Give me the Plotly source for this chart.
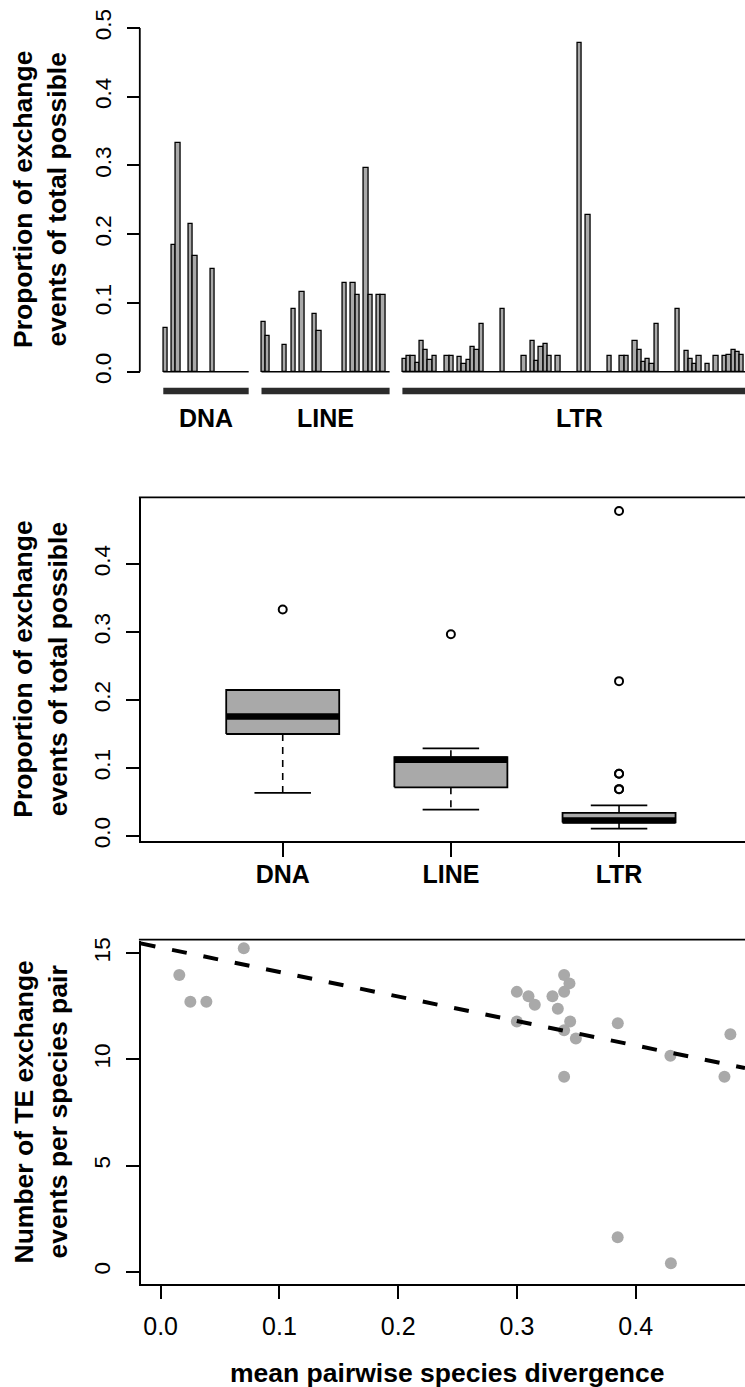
import numpy as np
import plotly.graph_objects as go

# ---------------- data ----------------
group_names = ["DNA", "LINE", "LTR"]

# proportion of exchange events of total possible, one value per TE family (bar order)
dna_props = [0.0635, 0, 0.1836, 0.333, 0, 0, 0.2147, 0.1676, 0, 0, 0, 0.150,
             0, 0, 0, 0, 0, 0, 0, 0]
line_props = [0.0717, 0.0513, 0, 0, 0, 0.039, 0, 0.0906, 0, 0.116, 0, 0,
              0.0843, 0.0586, 0, 0, 0, 0, 0, 0.129, 0, 0.129, 0.112, 0,
              0.2965, 0.112, 0, 0.112, 0.112, 0]
ltr_props = [0.019, 0.023, 0.023, 0.0126, 0.045, 0.032, 0.0165, 0.023, 0, 0,
             0.023, 0.023, 0, 0.021, 0.011, 0.0165, 0.036, 0.031, 0.069, 0,
             0, 0, 0, 0.0916, 0, 0, 0, 0, 0.023, 0,
             0.045, 0.015, 0.036, 0.0397, 0.023, 0, 0.023, 0, 0, 0,
             0, 0.4777, 0, 0.2277, 0, 0, 0, 0, 0.023, 0,
             0, 0.023, 0.023, 0, 0.045, 0.032, 0.0135, 0.019, 0.011, 0.069,
             0, 0, 0, 0, 0.0916, 0, 0.0295, 0.019, 0.011, 0.023,
             0, 0.011, 0, 0.023, 0, 0.023, 0.0247, 0.031, 0.029, 0.0247,
             0, 0, 0]
group_gap = 3

# mean pairwise species divergence vs number of TE exchange events per species pair
divergence = [0.0157, 0.025, 0.0385, 0.070, 0.2999, 0.3097, 0.315, 0.2999,
              0.3299, 0.3397, 0.3442, 0.3397, 0.3344, 0.3448, 0.3397, 0.3496,
              0.3397, 0.3849, 0.4292, 0.4797, 0.4747, 0.3848, 0.4296]
exchanges = [13.98, 12.72, 12.72, 15.24, 13.18, 12.97, 12.57, 11.78,
             12.97, 13.98, 13.58, 13.18, 12.38, 11.78, 11.37, 10.98,
             9.18, 11.70, 10.17, 11.18, 9.18, 1.62, 0.40]
fit_intercept = 15.27
fit_slope = -11.54

prop_ticks = [0.0, 0.1, 0.2, 0.3, 0.4, 0.5]
count_ticks = [0, 5, 10, 15]
div_ticks = [0.0, 0.1, 0.2, 0.3, 0.4]

# ---------------- layout helpers ----------------
W, H = 745, 1387
FONT = "Liberation Sans, Arial, Helvetica, sans-serif"
GRAY = "#A9A9A9"
LW = 1.8


def fx(p):
    return p / W


def fy(p):
    return 1 - p / H


fig = go.Figure()
shapes = []
annotations = []

# ---------------- panel 1: bars ----------------
groups = [dna_props, line_props, ltr_props]
offsets = []
off = 0
for g in groups:
    offsets.append(off)
    off += len(g) + group_gap

for name, vals, o in zip(group_names, groups, offsets):
    vals = np.asarray(vals, float)
    pos = o + np.arange(len(vals)) + 0.5
    keep = vals > 0
    fig.add_trace(go.Bar(x=pos[keep], y=vals[keep], width=1.0,
                         marker=dict(color=GRAY, line=dict(color="black", width=1.3)),
                         xaxis="x", yaxis="y", hoverinfo="skip"))
    # zero baseline of the group
    shapes.append(dict(type="line", xref="x", yref="y", x0=o, x1=o + len(vals), y0=0, y1=0,
                       line=dict(color="black", width=1.5), layer="above"))
    # group bar underneath
    shapes.append(dict(type="line", xref="x", yref="y", x0=o, x1=o + len(vals), y0=-0.028, y1=-0.028,
                       line=dict(color="#2b2b2b", width=6.5)))
    annotations.append(dict(x=o + len(vals) / 2, xref="x", y=fy(418), yref="paper",
                            text=name, showarrow=False, xanchor="center", yanchor="middle",
                            font=dict(family=FONT, size=25, color="black", weight="bold")))

# y axis line only from 0 to 0.5
shapes.append(dict(type="line", xref="paper", yref="y", x0=fx(140.7) - 0.0012, x1=fx(140.7) - 0.0012,
                   y0=prop_ticks[0], y1=prop_ticks[-1], line=dict(color="black", width=LW)))

# ---------------- panel 2: boxplots ----------------
def r_boxplot_stats(vals):
    v = np.sort(np.asarray(vals, float))
    n = len(v)
    n4 = np.floor((n + 3) / 2) / 2
    d = np.array([1, n4, (n + 1) / 2, n + 1 - n4, n]) - 1
    five = 0.5 * (v[np.floor(d).astype(int)] + v[np.ceil(d).astype(int)])
    iqr = five[3] - five[1]
    lo_lim, hi_lim = five[1] - 1.5 * iqr, five[3] + 1.5 * iqr
    inside = v[(v >= lo_lim) & (v <= hi_lim)]
    out = v[(v < lo_lim) | (v > hi_lim)]
    return dict(lo=inside.min(), q1=five[1], med=five[2], q3=five[3], hi=inside.max(), out=out)


box_half = 0.336
all_pos = []
for i, vals in enumerate(groups):
    v = [x for x in vals if x > 0]
    all_pos += v
    s = r_boxplot_stats(v)
    c = i + 1
    # whiskers (dashed)
    fig.add_trace(go.Scatter(x=[c, c, None, c, c], y=[s["q3"], s["hi"], None, s["q1"], s["lo"]],
                             mode="lines", line=dict(color="black", width=1.6, dash="7px,6px"),
                             xaxis="x2", yaxis="y2", hoverinfo="skip"))
    # staples
    fig.add_trace(go.Scatter(x=[c - box_half / 2, c + box_half / 2, None, c - box_half / 2, c + box_half / 2],
                             y=[s["hi"], s["hi"], None, s["lo"], s["lo"]],
                             mode="lines", line=dict(color="black", width=LW),
                             xaxis="x2", yaxis="y2", hoverinfo="skip"))
    # box
    fig.add_trace(go.Scatter(x=[c - box_half, c + box_half, c + box_half, c - box_half, c - box_half],
                             y=[s["q1"], s["q1"], s["q3"], s["q3"], s["q1"]],
                             mode="lines", fill="toself", fillcolor=GRAY,
                             line=dict(color="black", width=LW),
                             xaxis="x2", yaxis="y2", hoverinfo="skip"))
    # median
    fig.add_trace(go.Scatter(x=[c - box_half, c + box_half], y=[s["med"], s["med"]],
                             mode="lines", line=dict(color="black", width=6.5),
                             xaxis="x2", yaxis="y2", hoverinfo="skip"))
    # outliers
    if len(s["out"]):
        fig.add_trace(go.Scatter(x=[c] * len(s["out"]), y=s["out"], mode="markers",
                                 marker=dict(symbol="circle-open", size=8, color="black",
                                             line=dict(color="black", width=2)),
                                 xaxis="x2", yaxis="y2", hoverinfo="skip"))

bmin, bmax = min(all_pos), max(all_pos)
bpad = 0.04 * (bmax - bmin)
box_range = [bmin - bpad, bmax + bpad]

# ---------------- panel 3: scatter ----------------
fig.add_trace(go.Scatter(x=divergence, y=exchanges, mode="markers",
                         marker=dict(color=GRAY, size=12, line=dict(width=0)),
                         xaxis="x3", yaxis="y3", hoverinfo="skip"))
x3_range = [-0.0168, 0.492]
fit_x = np.array(x3_range)
fig.add_trace(go.Scatter(x=fit_x, y=fit_intercept + fit_slope * fit_x, mode="lines",
                         line=dict(color="black", width=4, dash="15px,17px"),
                         xaxis="x3", yaxis="y3", hoverinfo="skip"))

# top frame lines for panels 2 and 3
for top in (498.3, 940.5):
    shapes.append(dict(type="line", xref="paper", yref="paper", x0=fx(140.7) - 0.0024, x1=1,
                       y0=fy(top) + 0.0006, y1=fy(top) + 0.0006, line=dict(color="black", width=LW)))

# axis titles
ytitle_font = dict(family=FONT, size=26.5, color="black", weight="bold")
for txt, yc in [("Proportion of exchange<br>events of total possible", 200),
                ("Proportion of exchange<br>events of total possible", 669.8),
                ("Number of TE exchange<br>events per species pair", 1112.5)]:
    annotations.append(dict(text=txt, x=fx(40), y=fy(yc), xref="paper", yref="paper",
                            textangle=-90, showarrow=False, xanchor="center", yanchor="middle",
                            align="center", font=ytitle_font))
annotations.append(dict(text="mean pairwise species divergence", x=fx(447), y=fy(1373),
                        xref="paper", yref="paper", showarrow=False, xanchor="center",
                        yanchor="middle", font=ytitle_font))

tickfont = dict(family=FONT, size=22.5, color="black")
common_y = dict(showgrid=False, zeroline=False, ticks="outside", ticklen=13, tickwidth=LW,
                tickcolor="black", tickangle=-90, tickfont=tickfont, ticklabelstandoff=7)
xdom = [fx(140.7), 1]

fig.update_layout(
    width=W, height=H, margin=dict(l=0, r=0, t=0, b=0, pad=0),
    paper_bgcolor="white", plot_bgcolor="white", showlegend=False,
    template="none", font=dict(family=FONT, color="black"),
    barmode="overlay", bargap=0,
    xaxis=dict(domain=xdom, range=[-5.29, 136.23], visible=False, anchor="y"),
    yaxis=dict(domain=[fy(402.6), fy(28)], range=[-0.045, 0.5], anchor="x",
               tickvals=prop_ticks, ticktext=[f"{t:.1f}" for t in prop_ticks],
               showline=False, **common_y),
    xaxis2=dict(domain=xdom, range=[0.1555, 3.749], anchor="y2",
                tickvals=[1, 2, 3], ticktext=group_names, showgrid=False, zeroline=False,
                showline=True, linecolor="black", linewidth=LW,
                ticks="outside", ticklen=14, tickwidth=LW, tickcolor="black",
                tickfont=dict(family=FONT, size=25, color="black", weight="bold"),
                ticklabelstandoff=-4),
    yaxis2=dict(domain=[fy(841.3), fy(498.3)], range=box_range, anchor="x2",
                tickvals=prop_ticks[:-1], ticktext=[f"{t:.1f}" for t in prop_ticks[:-1]],
                showline=True, linecolor="black", linewidth=LW, **common_y),
    xaxis3=dict(domain=xdom, range=x3_range, anchor="y3",
                tickvals=div_ticks, ticktext=[f"{t:.1f}" for t in div_ticks],
                showgrid=False, zeroline=False, showline=True, linecolor="black", linewidth=LW,
                ticks="outside", ticklen=13, tickwidth=LW, tickcolor="black",
                tickfont=dict(family=FONT, size=25, color="black"), ticklabelstandoff=6),
    yaxis3=dict(domain=[fy(1284.4), fy(940.5)], range=[-0.6, 15.6], anchor="x3",
                tickvals=count_ticks, ticktext=[str(t) for t in count_ticks],
                showline=True, linecolor="black", linewidth=LW, **common_y),
    shapes=shapes, annotations=annotations,
)

fig.write_html("out.html")
